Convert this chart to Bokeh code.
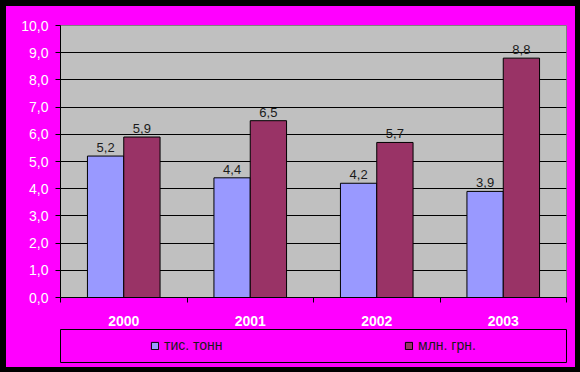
from bokeh.plotting import figure
from bokeh.layouts import column
from bokeh.models import Range1d, FixedTicker, Legend, LegendItem, ColumnDataSource
from bokeh.transform import dodge
from bokeh.core.properties import value
from bokeh.embed import file_html
from bokeh.resources import INLINE

# ---- data ----
years = ["2000", "2001", "2002", "2003"]
tys_tonn = [5.2, 4.4, 4.2, 3.9]
mln_grn = [5.9, 6.5, 5.7, 8.8]
series_names = ["тис. тонн", "млн. грн."]
y_ticks = [0, 1, 2, 3, 4, 5, 6, 7, 8, 9, 10]
colors = ["#9999FF", "#993366"]

def fmt(v):
    return ("%.1f" % v).replace(".", ",")

FONT = "Liberation Sans"
MAGENTA = "#FF00FF"
W_IN = 569          # inner (magenta) width
H_TOP = 322         # chart part height
H_LEG = 39          # legend strip height

idx = list(range(len(years)))
src = ColumnDataSource(dict(
    x=idx, a=tys_tonn, b=mln_grn,
    la=[fmt(v) for v in tys_tonn], lb=[fmt(v) for v in mln_grn],
))

p = figure(width=W_IN, height=H_TOP, output_backend="svg", toolbar_location=None,
           x_range=Range1d(-0.5, len(years) - 0.5),
           y_range=Range1d(y_ticks[0], y_ticks[-1]),
           min_border_left=52, min_border_right=9,
           min_border_top=19, min_border_bottom=29,
           background_fill_color="#C0C0C0", border_fill_color=MAGENTA,
           outline_line_color="#808080")
p.margin = 0

bw = 0.287
r1 = p.vbar(x=dodge("x", -bw / 2), top="a", width=bw, source=src,
            fill_color=colors[0], line_color="black", line_width=1)
r2 = p.vbar(x=dodge("x", bw / 2), top="b", width=bw, source=src,
            fill_color=colors[1], line_color="black", line_width=1)

for col, lab, off in (("a", "la", -bw / 2), ("b", "lb", bw / 2)):
    p.text(x=dodge("x", off), y=col, text=lab, source=src,
           text_align="center", text_baseline="bottom", y_offset=-4,
           text_font=value(FONT), text_font_size="13px", text_color="#1a1a1a")

# y axis
p.yaxis.ticker = FixedTicker(ticks=y_ticks)
p.yaxis.major_label_overrides = {t: fmt(t) for t in y_ticks}
p.yaxis.major_tick_out = 5
p.yaxis.major_tick_in = 0
p.yaxis.minor_tick_out = 0
p.yaxis.minor_tick_in = 0
p.yaxis.major_label_standoff = 7
p.yaxis.axis_line_color = "black"
p.yaxis.major_label_text_font = FONT
p.yaxis.major_label_text_font_size = "14px"
p.yaxis.major_label_text_color = "white"

p.ygrid.ticker = FixedTicker(ticks=y_ticks)
p.ygrid.grid_line_color = "black"
p.ygrid.grid_line_width = 1
p.xgrid.grid_line_color = None

# x axis: labels at category centres, tick marks at category boundaries
p.xaxis.ticker = FixedTicker(ticks=idx, minor_ticks=[i - 0.5 for i in idx] + [len(idx) - 0.5])
p.xaxis.major_label_overrides = {i: y for i, y in zip(idx, years)}
p.xaxis.major_tick_out = 0
p.xaxis.major_tick_in = 0
p.xaxis.minor_tick_out = 5
p.xaxis.minor_tick_in = 0
p.xaxis.major_label_standoff = 13
p.xaxis.axis_line_color = "black"
p.xaxis.major_label_text_font = FONT
p.xaxis.major_label_text_font_size = "14px"
p.xaxis.major_label_text_font_style = "bold"
p.xaxis.major_label_text_color = "white"

# legend strip: its frame is the legend box
p2 = figure(width=W_IN, height=H_LEG, output_backend="svg", toolbar_location=None,
            x_range=Range1d(0, 1), y_range=Range1d(0, 1),
            min_border_left=54, min_border_right=9,
            min_border_top=1, min_border_bottom=5,
            background_fill_color=MAGENTA, border_fill_color=MAGENTA,
            outline_line_color="black", outline_line_width=1)
p2.margin = 0
p2.axis.visible = False
p2.grid.visible = False
lr = [p2.vbar(x=0, top=0, width=0, fill_color=c, line_color="black", visible=False)
      for c in colors]
legend = Legend(items=[LegendItem(label=n, renderers=[r]) for n, r in zip(series_names, lr)],
                orientation="horizontal", location=(90, 9),
                border_line_color=None, background_fill_alpha=0,
                padding=0, margin=0, spacing=0,
                glyph_width=9, glyph_height=9, label_standoff=5,
                label_width=240, label_height=9,
                label_text_font=FONT, label_text_font_size="14px",
                label_text_color="#1a1a1a")
p2.add_layout(legend, "center")

inner = column(p, p2, spacing=0, styles={"background-color": MAGENTA})
inner.margin = (6, 5, 5, 6)
layout = column(inner, spacing=0, styles={"background-color": "black"})

open("out.html", "w").write(file_html(layout, INLINE))
